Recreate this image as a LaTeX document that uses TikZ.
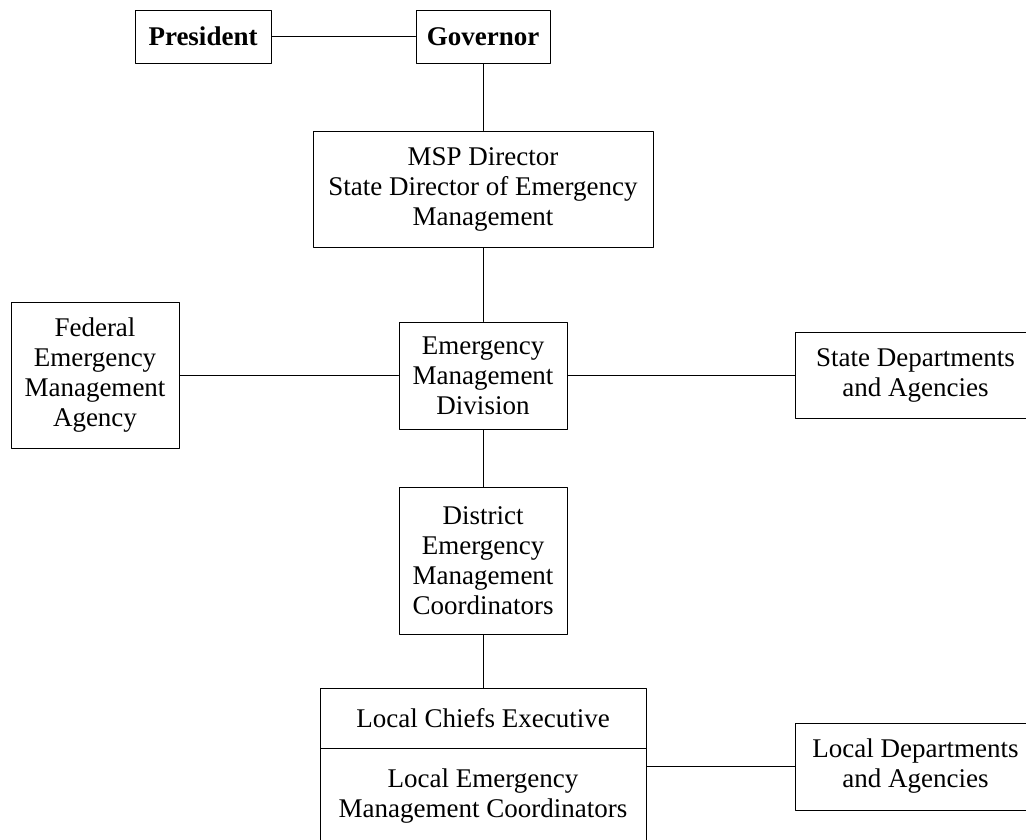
\documentclass[tikz,border=0pt]{standalone}
\usepackage{fontspec}
\setmainfont{Liberation Serif}
\begin{document}
\begin{tikzpicture}[x=1pt,y=-1pt,line join=round,line cap=round,
	font=\fontsize{27}{30}\selectfont,
	box/.style={draw,line width=1pt,align=center,inner sep=0pt},
	link/.style={line width=1pt}]
	\clip (0,0) rectangle (1026,839);
	\path
	(203,36.5) coordinate (P)
	(483,36.5) coordinate (G)
	(483,189) coordinate (M)
	(95,375.5) coordinate (F)
	(483,375.5) coordinate (E)
	(915.5,375.5) coordinate (S)
	(483,560.5) coordinate (D)
	(483,718) coordinate (C)
	(483,796) coordinate (L)
	(915.5,766.5) coordinate (A)
	;
	\node[box,font=\fontsize{27}{30}\selectfont\bfseries,minimum width=136pt,minimum height=53pt] (pres) at (P) {President};
	\node[box,font=\fontsize{27}{30}\selectfont\bfseries,minimum width=134pt,minimum height=53pt] (gov) at (G) {Governor};
	\node[box,minimum width=340pt,minimum height=116pt] (msp) at (M) {MSP Director\\State Director of Emergency\\Management};
	\node[box,minimum width=168pt,minimum height=146pt] (fema) at (F) {Federal\\Emergency\\Management\\Agency};
	\node[box,minimum width=168pt,minimum height=107pt] (emd) at (E) {Emergency\\Management\\Division};
	\node[box,minimum width=241pt,minimum height=86pt] (state) at (S) {State Departments\\and Agencies};
	\node[box,minimum width=168pt,minimum height=147pt] (district) at (D) {District\\Emergency\\Management\\Coordinators};
	\node[box,minimum width=326pt,minimum height=60pt] (chief) at (C) {Local Chiefs Executive};
	\node[box,minimum width=326pt,minimum height=96pt] (lemc) at (L) {Local Emergency\\Management Coordinators};
	\node[box,minimum width=241pt,minimum height=87pt] (ldept) at (A) {Local Departments\\and Agencies};
	% connectors
	\draw[link] (pres)--(gov) (gov)--(msp) (msp)--(emd)
	(fema)--(emd) (emd)--(state) (emd)--(district) (district)--(chief);
	\draw[link] (ldept.west)--(ldept.west -| lemc.east);
\end{tikzpicture}
\end{document}
